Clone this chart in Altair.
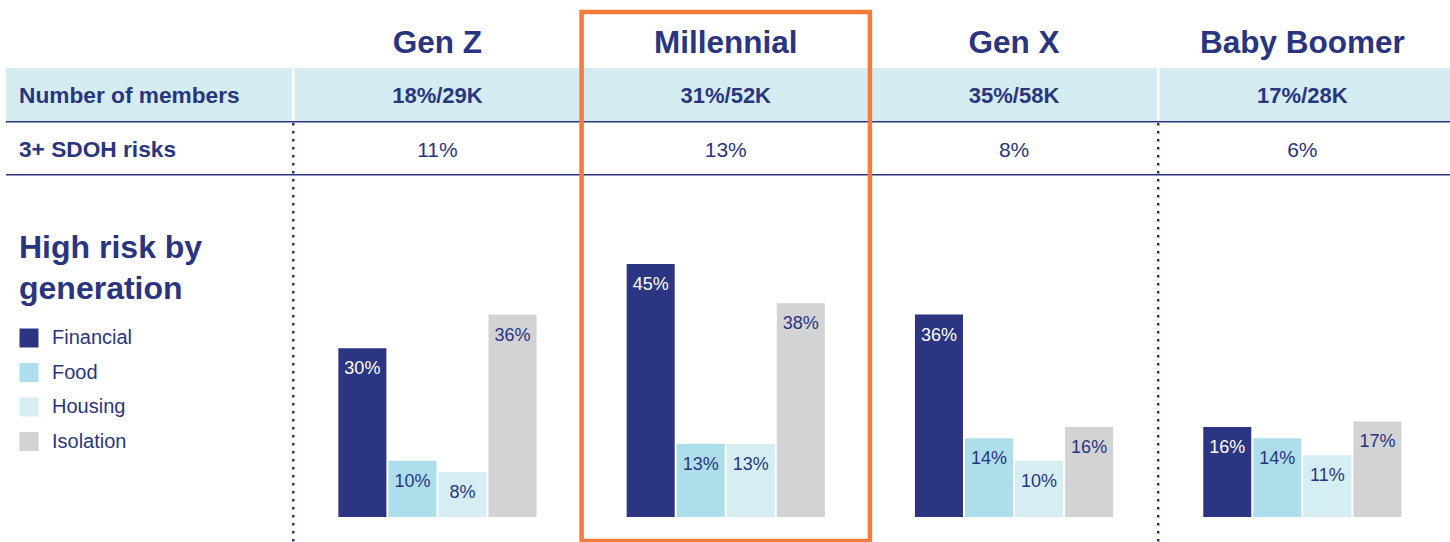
import altair as alt
import pandas as pd

# ---------------- data ----------------
generations = ["Gen Z", "Millennial", "Gen X", "Baby Boomer"]
members = ["18%/29K", "31%/52K", "35%/58K", "17%/28K"]
sdoh = ["11%", "13%", "8%", "6%"]
categories = ["Financial", "Food", "Housing", "Isolation"]
financial = [30, 45, 36, 16]
food = [10, 13, 14, 14]
housing = [8, 13, 10, 11]
isolation = [36, 38, 16, 17]
row_labels = ["Number of members", "3+ SDOH risks"]
highlight = ["Millennial"]
separators = ["Gen Z", "Baby Boomer"]
legend_title = ["High risk by", "generation"]

# ---------------- styling ----------------
NAVY = "#2b3582"
TXT = "#2a3580"
ORANGE = "#f47b3a"
BAND = "#d5edf2"
cat_colors = ["#2b3582", "#acdfeb", "#d5eef3", "#d1d3d5"]
FONT = "Liberation Sans"

columns = [""] + generations
col_scale = alt.Scale(domain=columns, range=[5, 1446.5], paddingInner=0, paddingOuter=0)
xcol = alt.X("col:N", scale=col_scale, axis=None)

# ---------------- tables ----------------
gen_df = pd.DataFrame({"col": generations, "members": members, "sdoh": sdoh})
sep_df = pd.DataFrame({"col": separators})
hl_df = pd.DataFrame({"col": highlight})
one = pd.DataFrame({"a": [0]})

rows = []
for g, vals in zip(generations, zip(financial, food, housing, isolation)):
    for c, v in zip(categories, vals):
        rows.append({"col": g, "cat": c, "val": v, "label": f"{v}%"})
bars_df = pd.DataFrame(rows)

band = alt.Chart(one).mark_rect(color=BAND).encode(
    x=alt.value(6), x2=alt.value(1450), y=alt.value(68), y2=alt.value(121.5)
)
white_sep = alt.Chart(sep_df).mark_rule(color="white", strokeWidth=2.5).encode(
    x=alt.X("col:N", scale=col_scale, axis=None, bandPosition=0),
    y=alt.value(68), y2=alt.value(121),
)
hline1 = alt.Chart(one).mark_rule(color=NAVY, strokeWidth=1.5).encode(
    x=alt.value(6), x2=alt.value(1450), y=alt.value(121.8)
)
hline2 = alt.Chart(one).mark_rule(color=NAVY, strokeWidth=1.5).encode(
    x=alt.value(6), x2=alt.value(1450), y=alt.value(174.8)
)
dotted = alt.Chart(sep_df).mark_rule(color=NAVY, strokeWidth=2.5, strokeDash=[2.5, 5.5]).encode(
    x=alt.X("col:N", scale=col_scale, axis=None, bandPosition=0),
    y=alt.value(123), y2=alt.value(542),
)

titles = alt.Chart(gen_df).mark_text(
    font=FONT, fontSize=31.5, fontWeight="bold", color=TXT, align="center", baseline="alphabetic"
).encode(x=xcol, y=alt.value(53), text="col:N")

mem_text = alt.Chart(gen_df).mark_text(
    font=FONT, fontSize=22, fontWeight="bold", color=TXT, align="center", baseline="alphabetic"
).encode(x=xcol, y=alt.value(103), text="members:N")

sdoh_text = alt.Chart(gen_df).mark_text(
    font=FONT, fontSize=21, color=TXT, align="center", baseline="alphabetic"
).encode(x=xcol, y=alt.value(156.5), text="sdoh:N")

lab1 = alt.Chart(pd.DataFrame({"t": [row_labels[0]]})).mark_text(
    font=FONT, fontSize=22.7, fontWeight="bold", color=TXT, align="left", baseline="alphabetic"
).encode(x=alt.value(19), y=alt.value(103), text="t:N")
lab2 = alt.Chart(pd.DataFrame({"t": [row_labels[1]]})).mark_text(
    font=FONT, fontSize=22.7, fontWeight="bold", color=TXT, align="left", baseline="alphabetic"
).encode(x=alt.value(19), y=alt.value(156.5), text="t:N")

# ---------------- bars ----------------
yscale = alt.Scale(domain=[-4.45, 91.96], nice=False, zero=False)
xoff = alt.XOffset("cat:N", sort=categories,
                   scale=alt.Scale(domain=categories, paddingInner=0.04, paddingOuter=0.9))

bars = alt.Chart(bars_df).mark_bar().encode(
    x=xcol,
    xOffset=xoff,
    y=alt.Y("val:Q", scale=yscale, axis=None),
    y2=alt.Y2(datum=0),
    color=alt.Color(
        "cat:N",
        scale=alt.Scale(domain=categories, range=cat_colors),
        legend=alt.Legend(
            orient="none", legendX=19, legendY=233, padding=0,
            title=legend_title, titleFont=FONT, titleFontSize=32, titleFontWeight="bold",
            titleColor=TXT, titleLineHeight=41, titlePadding=22, titleLimit=400,
            symbolType="square", symbolSize=361, symbolStrokeWidth=0, symbolOpacity=1,
            labelFont=FONT, labelFontSize=20, labelColor=TXT, labelOffset=13,
            rowPadding=14.5,
        ),
    ),
)

bar_text = alt.Chart(bars_df).mark_text(
    font=FONT, fontSize=18, align="center", baseline="alphabetic", dy=26
).encode(
    x=xcol,
    xOffset=xoff,
    y=alt.Y("val:Q", scale=yscale, axis=None),
    text="label:N",
    color=alt.condition(alt.datum.cat == "Financial", alt.value("white"), alt.value(TXT)),
)

box = alt.Chart(hl_df).mark_rect(filled=False, stroke=ORANGE, strokeWidth=4.5).encode(
    x=xcol, y=alt.value(12), y2=alt.value(541)
)

chart = alt.layer(
    band, white_sep, hline1, hline2, dotted, titles, mem_text, sdoh_text, lab1, lab2,
    bars, bar_text, box,
).properties(
    width=1450, height=542, autosize=alt.AutoSizeParams(type="none"), padding=0,
    background="white",
).configure_view(stroke=None)

chart.save("out.html", embed_options={"renderer": "svg", "actions": False})
